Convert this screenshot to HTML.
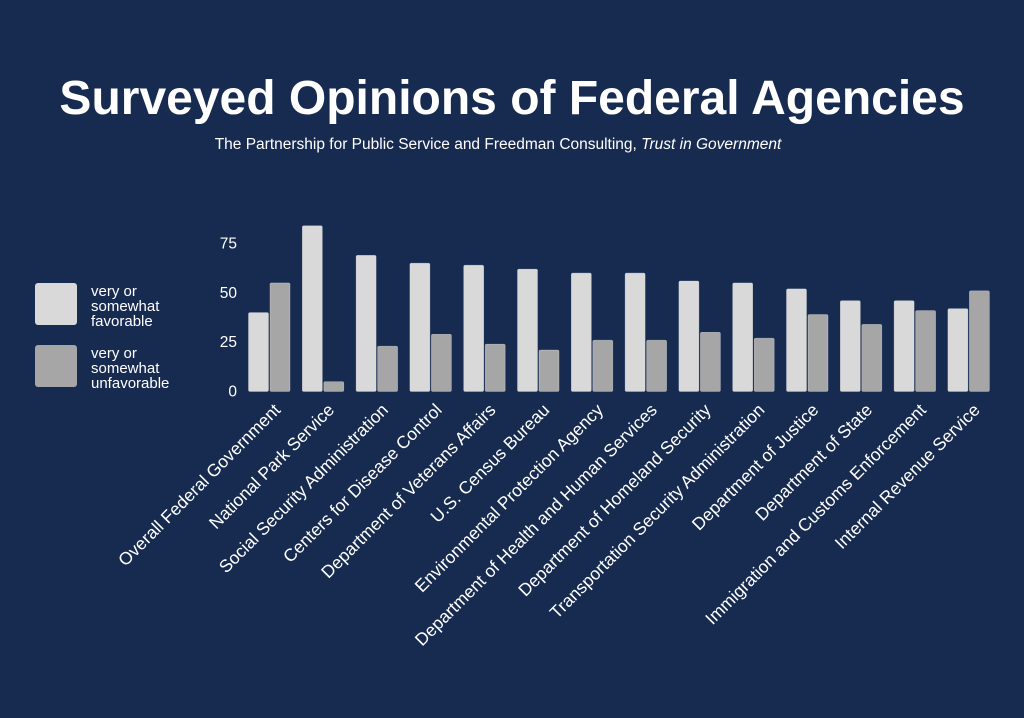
<!DOCTYPE html>
<html><head><meta charset="utf-8"><style>
body{margin:0;background:#172b51;}
svg{display:block;font-family:"Liberation Sans",sans-serif;}
</style></head><body>
<svg id="c" width="1024" height="718" viewBox="0 0 1024 718">
<rect width="1024" height="718" fill="#172b51"/>
<text x="512" y="114" text-anchor="middle" font-size="48" font-weight="bold" fill="#fff">Surveyed Opinions of Federal Agencies</text>
<text x="498" y="149" text-anchor="middle" font-size="15.5" fill="#fff">The Partnership for Public Service and Freedman Consulting, <tspan font-style="italic">Trust in Government</tspan></text>
<g>
<rect x="35" y="283" width="42" height="42" rx="3" fill="#d9d9d9"/>
<text font-size="15" fill="#fff"><tspan x="91" y="296">very or</tspan><tspan x="91" y="311">somewhat</tspan><tspan x="91" y="326">favorable</tspan></text>
<rect x="35" y="345" width="42" height="42" rx="3" fill="#a6a6a6"/>
<text font-size="15" fill="#fff"><tspan x="91" y="358">very or</tspan><tspan x="91" y="373">somewhat</tspan><tspan x="91" y="388">unfavorable</tspan></text>
</g>
<g id="plot"></g>
</svg>
<script>
const categories=["Overall Federal Government","National Park Service","Social Security Administration","Centers for Disease Control","Department of Veterans Affairs","U.S. Census Bureau","Environmental Protection Agency","Department of Health and Human Services","Department of Homeland Security","Transportation Security Administration","Department of Justice","Department of State","Immigration and Customs Enforcement","Internal Revenue Service"];
const favorable=[40,84,69,65,64,62,60,60,56,55,52,46,46,42];
const unfavorable=[55,5,23,29,24,21,26,26,30,27,39,34,41,51];
const yTicks=[0,25,50,75];
const NS="http://www.w3.org/2000/svg";
const g=document.getElementById('plot');
const y0=391.5, pxPer=148/75;
const yS=v=>y0-v*pxPer;
const xS=i=>248.5+i*53.8;
function mk(t,a){const e=document.createElementNS(NS,t);for(const k in a)e.setAttribute(k,a[k]);g.appendChild(e);return e;}
yTicks.forEach(v=>{
 const t=mk('text',{x:237,y:yS(v)+5,'text-anchor':'end','font-size':15.5,fill:'#fff'});
 t.textContent=v;
 
 
});
function bar(x,v,fill){
 const h=v*pxPer;
 return mk('rect',{x:x,y:y0-h,width:20,height:h,rx:1.5,fill:fill,stroke:'#e8e8e8','stroke-width':0.6,'stroke-opacity':0.5});
}
categories.forEach((c,i)=>{
 const b1=bar(xS(i),favorable[i],'#d9d9d9');
 
 
 const b2=bar(xS(i)+21.5,unfavorable[i],'#a6a6a6');
 
 
 const cx=xS(i)+33, cy=411;
 const t=mk('text',{x:cx,y:cy,'text-anchor':'end','font-size':17.5,fill:'#fff',transform:`rotate(-45 ${cx} ${cy})`});
 t.textContent=c;
 
 
});
</script>
</body></html>
